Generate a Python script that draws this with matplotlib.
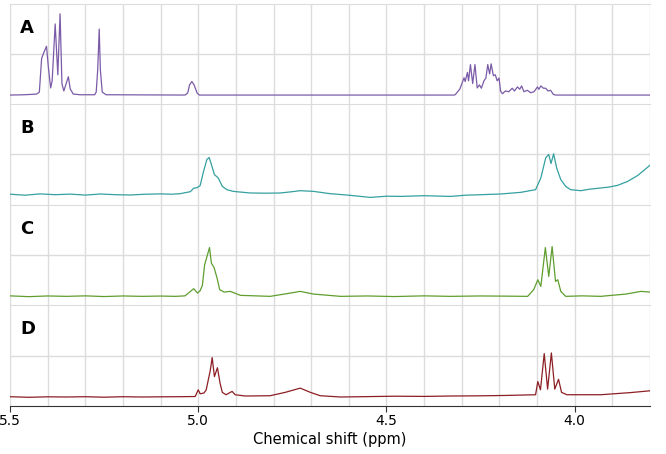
import matplotlib.pyplot as plt
from matplotlib.ticker import MultipleLocator

# spectrum A (ppm, intensity above baseline)
ppm_a = [5.500, 5.470, 5.445, 5.429, 5.422, 5.416, 5.410, 5.403, 5.398, 5.392, 5.388,
         5.380, 5.373, 5.367, 5.362, 5.357, 5.351, 5.345, 5.340, 5.332, 5.314, 5.275,
         5.271, 5.267, 5.263, 5.260, 5.255, 5.245, 5.035, 5.028, 5.023, 5.017, 5.011,
         5.003, 4.997, 4.320, 4.317, 4.305, 4.294, 4.291, 4.285, 4.282, 4.277, 4.271,
         4.265, 4.259, 4.253, 4.248, 4.241, 4.236, 4.231, 4.226, 4.222, 4.216, 4.211,
         4.206, 4.201, 4.197, 4.192, 4.184, 4.175, 4.166, 4.160, 4.152, 4.146, 4.141,
         4.135, 4.126, 4.117, 4.108, 4.099, 4.095, 4.090, 4.083, 4.077, 4.071, 4.064,
         4.057, 4.051, 3.800]
int_a = [0, 0.2, 0.6, 1, 3, 36, 42, 48, 27, 7, 14,
         70, 20, 80, 11, 4, 11, 18, 6, 1, 0.3, 0.3,
         3, 25, 65, 25, 3, 0.3, 0, 2, 10, 13.3, 10,
         2, 0, 0, 0.5, 6, 17, 13.3, 22.3, 14, 30, 11.3,
         30, 7, 10, 6.7, 14, 16.7, 30, 20.7, 30.7, 19, 20,
         14, 16.7, 4, 1.3, 4, 3.3, 6.7, 4, 8, 5.7, 9,
         3.3, 4.7, 2.3, 3.3, 8, 5.7, 9, 6.7, 6.7, 4, 4.7,
         0.7, 0, 0]

# spectrum B
ppm_b = [5.500, 5.460, 5.420, 5.380, 5.340, 5.300, 5.260, 5.220, 5.180, 5.140, 5.100,
         5.070, 5.048, 5.021, 5.012, 5.003, 4.995, 4.986, 4.977, 4.971, 4.965, 4.957,
         4.947, 4.936, 4.924, 4.907, 4.862, 4.820, 4.782, 4.750, 4.729, 4.694, 4.649,
         4.600, 4.543, 4.500, 4.463, 4.400, 4.330, 4.290, 4.250, 4.197, 4.144, 4.104,
         4.090, 4.077, 4.069, 4.063, 4.056, 4.048, 4.037, 4.024, 4.011, 3.984, 3.960,
         3.931, 3.910, 3.886, 3.859, 3.832, 3.800]
int_b = [0.5, -0.5, 0.8, 0, 0.6, -0.4, 0.7, 0, -0.3, 0.5, 0.8,
         0.5, 1, 3, 6.5, 7, 9, 23, 35, 37, 30, 20,
         16.7, 8.3, 5, 3.3, 1.7, 1.5, 1.7, 3, 4, 3.3, 1,
         -0.5, -2.7, -1.5, -1.7, -1, -1.7, -0.5, 0, 0.7, 2.3, 5,
         16.7, 36.7, 40, 31, 40.7, 26.7, 15, 8.3, 5, 4, 5.5,
         6.7, 7.5, 9.3, 13.3, 19.3, 29.3]

# spectrum C
ppm_c = [5.500, 5.450, 5.400, 5.350, 5.300, 5.250, 5.200, 5.150, 5.100, 5.060,
         5.035, 5.012, 5.002, 4.995, 4.989, 4.983, 4.970, 4.965, 4.958, 4.950,
         4.943, 4.931, 4.915, 4.888, 4.809, 4.755, 4.729, 4.694, 4.622, 4.550,
         4.480, 4.400, 4.330, 4.250, 4.180, 4.125, 4.109, 4.098, 4.090, 4.078,
         4.069, 4.060, 4.051, 4.045, 4.037, 4.024, 3.980, 3.931, 3.864, 3.824, 3.800]
int_c = [0.5, -0.3, 0.4, 0, 0.5, -0.2, 0.4, 0, 0.3, 0,
         0.5, 7.7, 3.3, 5.7, 11, 31.7, 49, 33.3, 29, 18.3,
         6.7, 4.3, 5, 1, 0, 3.3, 5, 2.3, 0, 0.4,
         -0.2, 0.5, 0, 0.4, 0.2, 0, 6.7, 16.7, 10, 49,
         20, 50, 15, 16.7, 5, 0, 0.5, 0, 2.3, 5, 4.3]

# spectrum D
ppm_d = [5.500, 5.450, 5.400, 5.350, 5.300, 5.250, 5.200, 5.150, 5.100, 5.050,
         5.008, 5.000, 4.995, 4.985, 4.979, 4.968, 4.963, 4.957, 4.949, 4.942,
         4.936, 4.926, 4.910, 4.902, 4.875, 4.809, 4.769, 4.729, 4.702, 4.676,
         4.622, 4.550, 4.480, 4.400, 4.330, 4.250, 4.180, 4.104, 4.098, 4.091,
         4.081, 4.072, 4.062, 4.053, 4.043, 4.035, 4.021, 3.931, 3.851, 3.800]
int_d = [0.3, -0.3, 0.2, 0, 0.3, -0.2, 0.3, 0, 0.2, 0.3,
         0.5, 7.3, 3.3, 4, 7, 27, 40, 20.7, 29.7, 14,
         4.7, 2.3, 5.7, 2.3, 1, 1.3, 4.7, 9, 4.7, 1.3,
         0, 0.4, 0.8, 0.6, 1, 1.2, 1.6, 2.3, 15.7, 7.3,
         44, 8, 44.7, 8, 18, 4.7, 2.3, 2.3, 4.5, 6.3]

labels = ['A', 'B', 'C', 'D']
colors = ['#7b5ba8', '#35a0a0', '#5f9e2e', '#8c1f24']
ylims = [(-9, 90), (-10, 90), (-9, 92), (-9, 93)]
spectra = [(ppm_a, int_a), (ppm_b, int_b), (ppm_c, int_c), (ppm_d, int_d)]

fig, axes = plt.subplots(4, 1, sharex=True, figsize=(6.66, 4.54), dpi=100)
fig.subplots_adjust(left=0.015, right=0.976, top=0.992, bottom=0.106, hspace=0)

for ax, lab, col, yl, (x, y) in zip(axes, labels, colors, ylims, spectra):
    ax.plot(x, y, color=col, lw=0.9)
    ax.set_ylim(yl)
    ax.set_yticks([(yl[0] + yl[1]) / 2])
    ax.tick_params(axis='y', left=False, labelleft=False)
    ax.tick_params(axis='x', which='both', bottom=False)
    ax.xaxis.set_major_locator(MultipleLocator(0.5))
    ax.xaxis.set_minor_locator(MultipleLocator(0.1))
    ax.grid(True, which='both', color='#dcdcdc', lw=1)
    ax.set_axisbelow(True)
    for s in ['left', 'right', 'bottom']:
        ax.spines[s].set_visible(False)
    ax.spines['top'].set_color('#dcdcdc')
    ax.text(0.016, 0.76, lab, transform=ax.transAxes, fontsize=13,
            fontweight='bold', va='center', ha='left')

ax = axes[-1]
ax.set_xlim(5.5, 3.8)
ax.spines['bottom'].set_visible(True)
ax.spines['bottom'].set_color('#333333')
ax.tick_params(axis='x', which='major', bottom=True, length=4, color='#333333',
               labelsize=10, pad=2)
ax.tick_params(axis='x', which='minor', bottom=False)
ax.set_xticks([5.5, 5.0, 4.5, 4.0])
ax.set_xticklabels(['5.5', '5.0', '4.5', '4.0'])
ax.set_xlabel('Chemical shift (ppm)', fontsize=10.5, labelpad=3)

fig.savefig('out.png', dpi=100)
